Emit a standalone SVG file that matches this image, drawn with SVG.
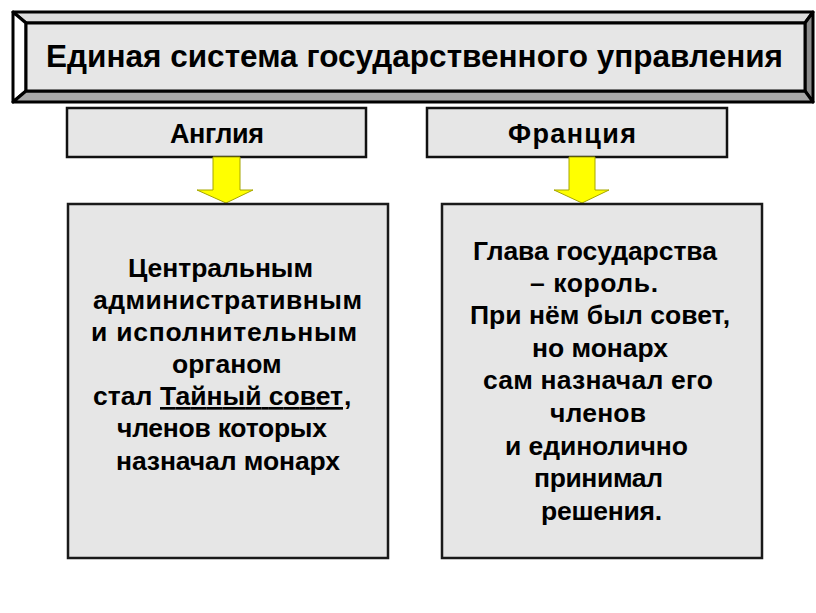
<svg xmlns="http://www.w3.org/2000/svg" width="816" height="613" viewBox="0 0 816 613">
<style>
.t{font-family:"Liberation Sans",Arial,sans-serif;font-weight:bold;fill:#000}
.b{font-size:26.5px}
.box{fill:#e6e6e6;stroke:#111;stroke-width:2.5}
.big{fill:#e6e6e6;stroke:#1a1a1a;stroke-width:2.5}
.arr{fill:#ffff00;stroke:#a6a600;stroke-width:1}
.bev{stroke:#000;stroke-width:3;stroke-linejoin:round}
</style>
<rect width="816" height="613" fill="#fff"/>
<g id="title">
<polygon class="bev" points="13,12 813,12 805,23 26,23" fill="#dcdcdc"/>
<polygon class="bev" points="13,12 26,23 26,91 13,102" fill="#ffffff"/>
<polygon class="bev" points="813,12 813,102 805,91 805,23" fill="#8c8c8c"/>
<polygon class="bev" points="13,102 26,91 805,91 813,102" fill="#a8a8a8"/>
<rect class="bev" x="26" y="23" width="779" height="68" fill="#e6e6e6"/>
<text class="t" x="46" y="67" font-size="31.5" textLength="737" lengthAdjust="spacing">Единая система государственного управления</text>
</g>
<g id="england">
<rect class="box" x="67" y="108" width="299" height="49"/>
<text class="t" x="170" y="143" font-size="27" textLength="94" lengthAdjust="spacing">Англия</text>
</g>
<g id="france">
<rect class="box" x="427" y="108" width="300" height="49"/>
<text class="t" x="508" y="143" font-size="27" textLength="128" lengthAdjust="spacing">Франция</text>
</g>
<g id="connectors">
<polygon class="arr" points="213,157 240,157 240,190 253,190 226,203 197,190 213,190"/>
<polygon class="arr" points="569,157 595,157 595,190 609,190 582,203 554,190 569,190"/>
</g>
<g id="england-text">
<rect class="big" x="68" y="204" width="320" height="354"/>
<text class="t b" x="128" y="277" textLength="185" lengthAdjust="spacing">Центральным</text>
<text class="t b" x="93" y="309" textLength="269" lengthAdjust="spacing">административным</text>
<text class="t b" x="91" y="341" textLength="266" lengthAdjust="spacing">и исполнительным</text>
<text class="t b" x="172" y="373">органом</text>
<text class="t b" x="93" y="405">стал</text>
<text class="t b" x="160" y="405" textLength="183" lengthAdjust="spacing" text-decoration="underline">Тайный совет</text>
<text class="t b" x="344" y="405">,</text>
<text class="t b" x="117" y="437" textLength="210" lengthAdjust="spacing">членов которых</text>
<text class="t b" x="116" y="470" textLength="224" lengthAdjust="spacing">назначал монарх</text>
</g>
<g id="france-text">
<rect class="big" x="442" y="204" width="320" height="354"/>
<text class="t b" x="473" y="260" textLength="244" lengthAdjust="spacing">Глава государства</text>
<text class="t b" x="530" y="292" textLength="128" lengthAdjust="spacing">– король.</text>
<text class="t b" x="470" y="324" textLength="260" lengthAdjust="spacing">При нём был совет,</text>
<text class="t b" x="532" y="357" textLength="136" lengthAdjust="spacing">но монарх</text>
<text class="t b" x="483" y="389" textLength="230" lengthAdjust="spacing">сам назначал его</text>
<text class="t b" x="550" y="422" textLength="96" lengthAdjust="spacing">членов</text>
<text class="t b" x="505" y="455" textLength="183" lengthAdjust="spacing">и единолично</text>
<text class="t b" x="534" y="487" textLength="129" lengthAdjust="spacing">принимал</text>
<text class="t b" x="541" y="520" textLength="121" lengthAdjust="spacing">решения.</text>
</g>
</svg>
